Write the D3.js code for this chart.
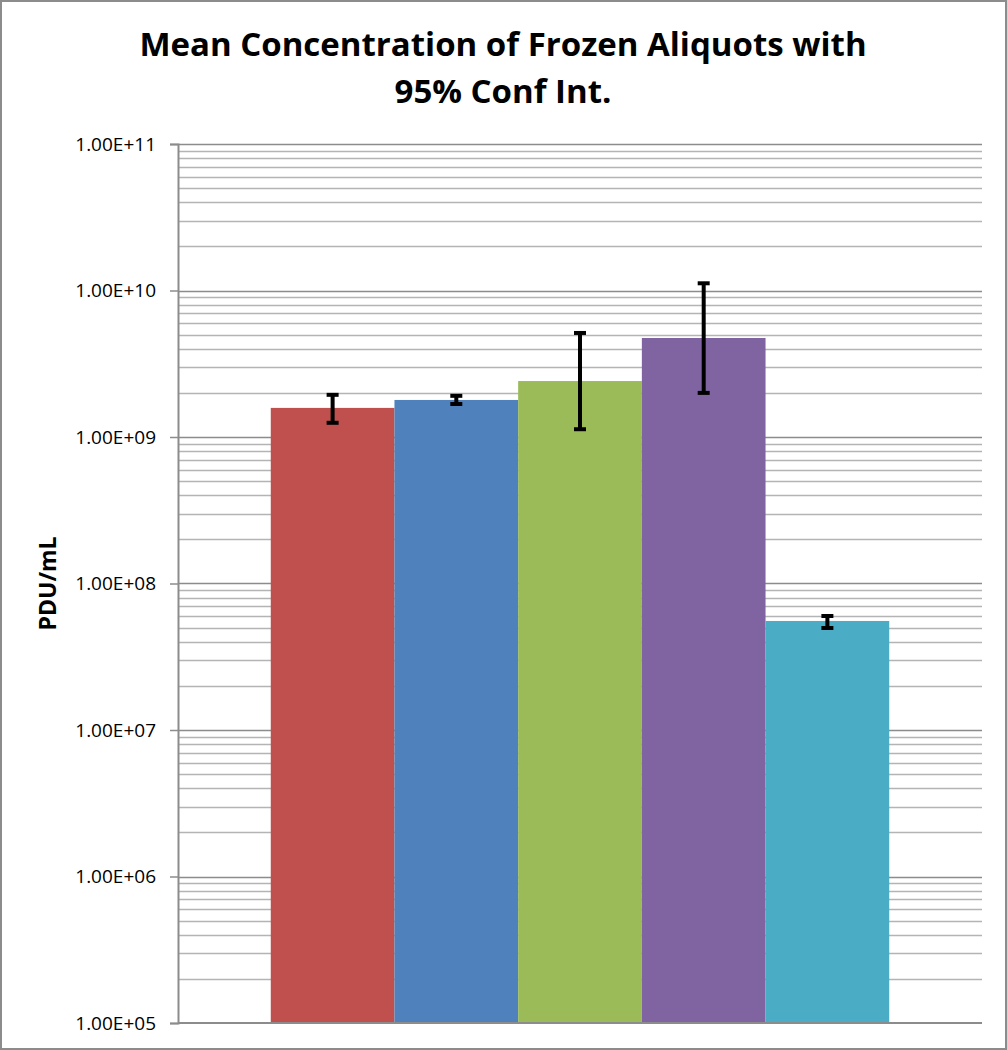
<!DOCTYPE html>
<html>
<head>
<meta charset="utf-8">
<script src="https://cdnjs.cloudflare.com/ajax/libs/d3/7.8.5/d3.min.js"></script>
<style>
  body { margin: 0; background: #fff; }
  text { font-family: "Open Sans", "DejaVu Sans", sans-serif; }
</style>
</head>
<body>
<svg width="1007" height="1050"></svg>
<script>
// one category, five series (bar colours follow Excel 2010 defaults)
var series = ["S1", "S2", "S3", "S4", "S5"];
var means = [1.58e9, 1.79e9, 2.41e9, 4.74e9, 5.55e7];
var lower = [1.25e9, 1.68e9, 1.13e9, 2.00e9, 4.97e7];
var upper = [1.94e9, 1.91e9, 5.13e9, 1.12e10, 6.00e7];
var colors = ["#c0504d", "#4f81bd", "#9bbb59", "#8064a2", "#4bacc6"];
var tickVals = [1e5, 1e6, 1e7, 1e8, 1e9, 1e10, 1e11];

var svg = d3.select("svg");
var W = 1007, H = 1050;
var m = {left: 178, right: 982, top: 144, bottom: 1023};

// outer frame
svg.append("rect").attr("x", 1).attr("y", 1).attr("width", W - 2).attr("height", H - 2)
    .attr("fill", "#fff").attr("stroke", "#8c8c8c").attr("stroke-width", 2);

var y = d3.scaleLog().domain([1e5, 1e11]).range([m.bottom, m.top]);
var plotW = m.right - m.left;
var barW = plotW / (series.length + 1.5);   // gap width 150%
var x = d3.scaleBand().domain(series)
    .range([m.left + barW * 0.75, m.right - barW * 0.75]).padding(0);

// minor gridlines
var minors = [];
for (var e = 5; e < 11; e++) {
    for (var k = 2; k <= 9; k++) minors.push(k * Math.pow(10, e));
}
svg.append("g").selectAll("line").data(minors).enter().append("line")
    .attr("x1", m.left).attr("x2", m.right)
    .attr("y1", function(d){ return Math.round(y(d)) + 0.5; })
    .attr("y2", function(d){ return Math.round(y(d)) + 0.5; })
    .attr("stroke", "#b4b4b4").attr("stroke-width", 1.5);

// major gridlines
svg.append("g").selectAll("line").data(tickVals.slice(1)).enter().append("line")
    .attr("x1", m.left).attr("x2", m.right)
    .attr("y1", function(d){ return Math.round(y(d)) + 0.5; })
    .attr("y2", function(d){ return Math.round(y(d)) + 0.5; })
    .attr("stroke", "#8c8c8c").attr("stroke-width", 1.5);

// bars
svg.append("g").selectAll("rect").data(series).enter().append("rect")
    .attr("x", function(d){ return x(d); })
    .attr("width", x.bandwidth())
    .attr("y", function(d, i){ return y(means[i]); })
    .attr("height", function(d, i){ return y(1e5) - y(means[i]); })
    .attr("fill", function(d, i){ return colors[i]; });

// y axis
var yAxis = d3.axisLeft(y).tickValues(tickVals).tickSize(8).tickPadding(14)
    .tickFormat(function(d){
        var ex = Math.round(Math.log10(d));
        return "1.00E+" + (ex < 10 ? "0" + ex : ex);
    });
var ga = svg.append("g").attr("transform", "translate(" + m.left + ",0)").call(yAxis);
ga.attr("font-size", 19).attr("font-family", "'Open Sans', sans-serif");
ga.select(".domain").attr("stroke", "#8c8c8c").attr("stroke-width", 2);
ga.selectAll(".tick line").attr("stroke", "#8c8c8c").attr("stroke-width", 1.5);
ga.selectAll(".tick text").attr("fill", "#000");

// bottom axis line
svg.append("line").attr("x1", m.left).attr("x2", m.right)
    .attr("y1", m.bottom).attr("y2", m.bottom)
    .attr("stroke", "#8c8c8c").attr("stroke-width", 2);

// error bars
var eb = svg.append("g").attr("stroke", "#000").attr("stroke-width", 4);
series.forEach(function(s, i){
    var cx = x(s) + x.bandwidth() / 2;
    eb.append("line").attr("x1", cx).attr("x2", cx)
        .attr("y1", y(upper[i])).attr("y2", y(lower[i]));
    [upper[i], lower[i]].forEach(function(v){
        eb.append("line").attr("x1", cx - 6).attr("x2", cx + 6)
            .attr("y1", y(v)).attr("y2", y(v));
    });
});

// title
var title = svg.append("text").attr("text-anchor", "middle")
    .attr("font-size", 33).attr("font-weight", "bold").attr("fill", "#000");
title.append("tspan").attr("x", 503).attr("y", 56).text("Mean Concentration of Frozen Aliquots with");
title.append("tspan").attr("x", 503).attr("y", 103).text("95% Conf Int.");

// y label
svg.append("text").attr("transform", "translate(56," + ((m.top + m.bottom) / 2) + ") rotate(-90)")
    .attr("text-anchor", "middle").attr("font-size", 23).attr("font-weight", "bold")
    .text("PDU/mL");
</script>
</body>
</html>
